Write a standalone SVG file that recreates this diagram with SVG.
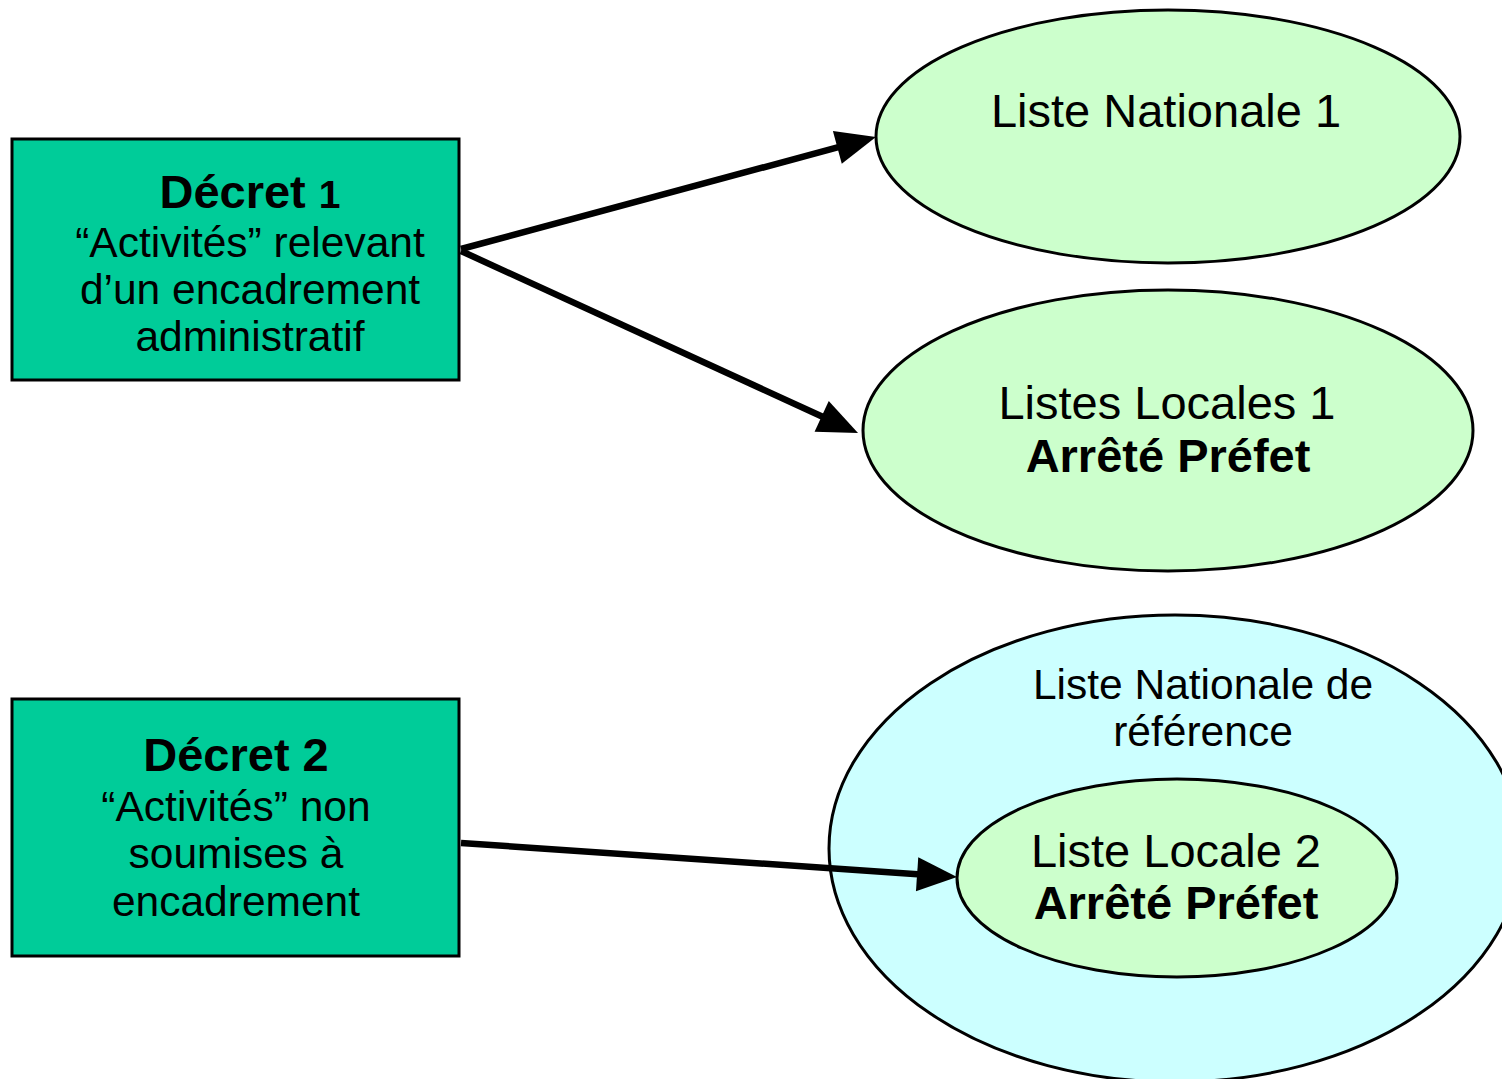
<svg xmlns="http://www.w3.org/2000/svg" width="1502" height="1079" viewBox="0 0 1502 1079">
<style>
text{font-family:"Liberation Sans",Arial,sans-serif;fill:#000;text-anchor:middle}
.box{fill:#00CC99;stroke:#000;stroke-width:3}
.green{fill:#CCFFCC;stroke:#000;stroke-width:3}
.cyan{fill:#CCFFFF;stroke:#000;stroke-width:3}
.t47{font-size:47px}
.t42{font-size:42.5px}
.b{font-weight:bold}
.conn{stroke:#000;stroke-width:6.5;fill:none;marker-end:url(#ah)}
</style>
<defs>
<marker id="ah" markerUnits="userSpaceOnUse" markerWidth="42" markerHeight="34" refX="4" refY="17" orient="auto" overflow="visible">
<path d="M0,0 L40,17 L0,34 z" fill="#000"/>
</marker>
</defs>
<rect width="1502" height="1079" fill="#fff"/>
<g id="decret1">
<rect class="box" x="12" y="139" width="447" height="241"/>
<text x="250" y="208" class="b"><tspan class="t47">Décret </tspan><tspan style="font-size:39px">1</tspan></text>
<text x="250" y="257" class="t42">“Activités” relevant</text>
<text x="250" y="304" class="t42">d’un encadrement</text>
<text x="250" y="351" class="t42">administratif</text>
</g>
<g id="decret2">
<rect class="box" x="12" y="699" width="447" height="257"/>
<text x="236" y="771" class="t47 b">Décret 2</text>
<text x="236" y="821" class="t42">“Activités” non</text>
<text x="236" y="868" class="t42">soumises à</text>
<text x="236" y="916" class="t42">encadrement</text>
</g>
<g id="liste-nationale-1">
<ellipse class="green" cx="1168" cy="136.5" rx="292" ry="126.5"/>
<text x="1166" y="127" class="t47">Liste Nationale 1</text>
</g>
<g id="listes-locales-1">
<ellipse class="green" cx="1168" cy="430.5" rx="305" ry="140.5"/>
<text x="1167" y="419" class="t47">Listes Locales 1</text>
<text x="1168" y="472" class="t47 b">Arrêté Préfet</text>
</g>
<g id="liste-nationale-reference">
<ellipse class="cyan" cx="1175" cy="848.5" rx="346" ry="233.5"/>
<text x="1203" y="699" class="t42">Liste Nationale de</text>
<text x="1203" y="746" class="t42">référence</text>
</g>
<g id="liste-locale-2">
<ellipse class="green" cx="1177" cy="878" rx="220" ry="99"/>
<text x="1176" y="867" class="t47">Liste Locale 2</text>
<text x="1176" y="919" class="t47 b">Arrêté Préfet</text>
</g>
<g id="connectors">
<line class="conn" x1="461" y1="249" x2="841.2" y2="146.4"/>
<line class="conn" x1="461" y1="251" x2="825.3" y2="418"/>
<line class="conn" x1="461" y1="843" x2="921.1" y2="874.5"/>
</g>
</svg>
